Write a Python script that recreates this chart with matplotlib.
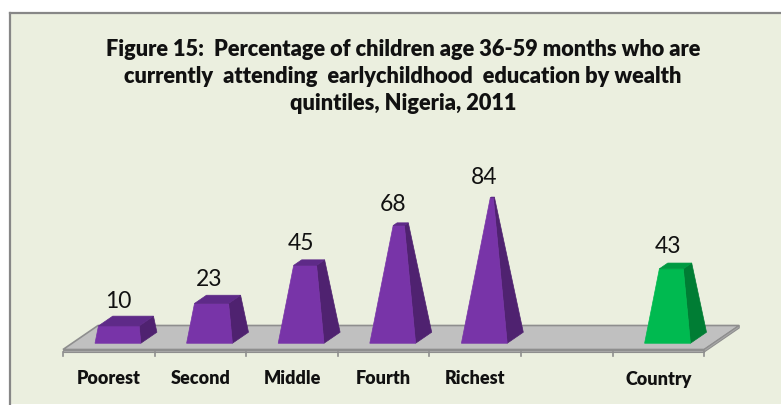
import numpy as np
import matplotlib.pyplot as plt
from matplotlib.patches import Polygon, Rectangle
from matplotlib.lines import Line2D

# data
categories = ['Poorest', 'Second', 'Middle', 'Fourth', 'Richest', '', 'Country']
values = [10, 23, 45, 68, 84, None, 43]
bar_kind = ['quintile'] * 5 + [None] + ['country']
title_lines = ['Figure 15:  Percentage of children age 36-59 months who are',
               'currently  attending  earlychildhood  education by wealth',
               'quintiles, Nigeria, 2011']

# colours per bar kind: front, side, top
palette = {
    'quintile': ('#7834A8', '#4F2270', '#5E2A88'),
    'country': ('#00BA50', '#007D34', '#009A42'),
}

W, H = 781, 405
fig = plt.figure(figsize=(W / 100, H / 100), dpi=100)
fig.patch.set_facecolor('white')

# chart area background and its border (left/top visible)
fig.patches.append(Rectangle((10 / W, 1 / H), 1, (H - 13) / H, transform=fig.transFigure,
                             facecolor='#EBEFDF', edgecolor='none', zorder=-5))
fig.lines.append(Line2D([10 / W, 10 / W], [1 / H, 1 - 12.5 / H], transform=fig.transFigure,
                        color='#878787', lw=1.6, zorder=-4))
fig.lines.append(Line2D([10 / W, 1], [1 - 12.5 / H, 1 - 12.5 / H], transform=fig.transFigure,
                        color='#878787', lw=1.6, zorder=-4))

# pixel layout of the 3-d plot area
CAT_PX = 91.6      # width of one category
LEFT_PX = 63       # left front corner of the floor
FLOOR_PX = 349.5   # front edge of the floor (from top)
UNIT_PX = 1.67     # pixels per percent
HMAX = 90          # axis max = pyramid apex

ax = fig.add_axes([0, 0, 1, 1])
ax.set_zorder(1)
ax.set_xlim((0 - LEFT_PX) / CAT_PX - 0.5, (W - LEFT_PX) / CAT_PX - 0.5)
ax.set_ylim((FLOOR_PX - H) / UNIT_PX, FLOOR_PX / UNIT_PX)
ax.axis('off')
ax.patch.set_alpha(0)

DX = 35 / CAT_PX   # oblique depth offset
DY = 24 / UNIT_PX


def proj(x, z, h):
    return x + z * DX, h + z * DY


n = len(categories)
x0, x1 = -0.5, n - 0.5
slab = 2.5 / UNIT_PX

# floor
floor = [proj(x0, 0, 0), proj(x1, 0, 0), proj(x1, 1, 0), proj(x0, 1, 0)]
ax.add_patch(Polygon(floor, closed=True, facecolor='#C0C0C0', edgecolor='#8E8E8E', lw=1.2))
ax.add_patch(Polygon([proj(x0, 0, 0), proj(x1, 0, 0), proj(x1, 0, -slab), proj(x0, 0, -slab)],
                     closed=True, facecolor='#A9A9A9', edgecolor='#8E8E8E', lw=0.8))
ax.add_patch(Polygon([proj(x1, 0, 0), proj(x1, 1, 0), proj(x1, 1, -slab), proj(x1, 0, -slab)],
                     closed=True, facecolor='#A9A9A9', edgecolor='#8E8E8E', lw=0.8))
for i in range(n + 1):
    ax.plot([x0 + i, x0 + i], [-slab, -slab - 4 / UNIT_PX], color='#8E8E8E', lw=1.2)

# truncated pyramids
hw = 0.25
z_lo, z_hi = 0.26, 0.72
zc, hd = (z_lo + z_hi) / 2, (z_hi - z_lo) / 2

for i, (v, kind) in enumerate(zip(values, bar_kind)):
    if v is None:
        continue
    front_c, side_c, top_c = palette[kind]
    s = 1 - v / HMAX
    bl, br = i - hw, i + hw
    tl, tr = i - hw * s, i + hw * s
    tzf, tzb = zc - hd * s, zc + hd * s
    side = [proj(br, z_lo, 0), proj(br, z_hi, 0), proj(tr, tzb, v), proj(tr, tzf, v)]
    front = [proj(bl, z_lo, 0), proj(br, z_lo, 0), proj(tr, tzf, v), proj(tl, tzf, v)]
    top = [proj(tl, tzf, v), proj(tr, tzf, v), proj(tr, tzb, v), proj(tl, tzb, v)]
    ax.add_patch(Polygon(side, closed=True, facecolor=side_c, edgecolor=side_c, lw=0.5))
    ax.add_patch(Polygon(front, closed=True, facecolor=front_c, edgecolor=front_c, lw=0.5))
    ax.add_patch(Polygon(top, closed=True, facecolor=top_c, edgecolor=top_c, lw=0.5))
    lx = proj(i, z_lo, 0)[0]
    ly = proj(i, zc, v)[1]
    ax.annotate(str(v), xy=(lx, ly), xytext=(0, 13 * 0.72), textcoords='offset points',
                ha='center', va='baseline', fontsize=16.5, family='Lato', color='#111111')

for i, cat in enumerate(categories):
    ax.annotate(cat, xy=(i, 0), xytext=(0, -29.5 * 0.72), textcoords='offset points',
                ha='center', va='center', fontsize=13, fontweight='heavy', family='Lato',
                color='#111111')

# title, fitted to the reference line width
baselines = [56, 83, 110]
texts = []
for line, yb in zip(title_lines, baselines):
    texts.append(fig.text(403 / W, 1 - yb / H, line, ha='center', va='baseline',
                          fontsize=15, fontweight='heavy', family='Lato', color='#111111'))
renderer = fig.canvas.get_renderer()
w0 = texts[0].get_window_extent(renderer).width
for t in texts:
    t.set_fontsize(15 * 600 / w0)

fig.savefig('out.png', dpi=100, facecolor='white')
